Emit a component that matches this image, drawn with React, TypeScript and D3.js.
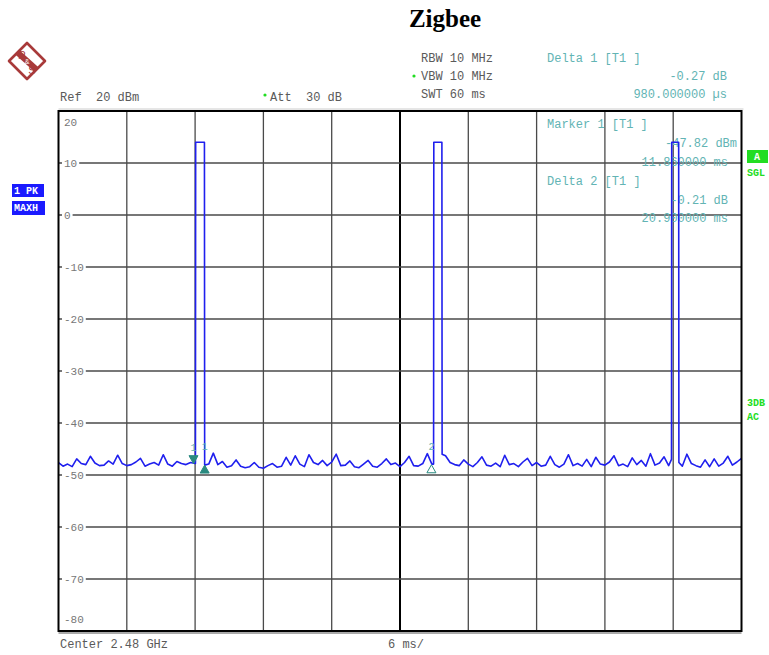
import React from 'react';
import * as d3 from 'd3';

// sweep: 0..60 ms, 6 ms/div; level in dBm
const sweepMs = 60;
const sampleStepMs = 0.4;
const levelTicks = [20, 10, 0, -10, -20, -30, -40, -50, -60, -70, -80];
const timeTicks = [0, 6, 12, 18, 24, 30, 36, 42, 48, 54, 60];

// noise floor, one value every 0.4 ms
const noiseDbm = [
	-47.6, -48.3, -47.9, -48.4, -46.9, -47.8, -48.0, -46.4, -47.7, -48.2, -48.1, -47.3, -47.9, -46.2, -47.8,
	-48.2, -48.0, -47.5, -46.8, -48.3, -47.9, -47.6, -48.1, -46.1, -47.9, -48.3, -47.4, -47.8, -48.0, -47.6,
	-47.8, -47.5, -47.6, -47.9, -45.8, -48.0, -47.4, -48.5, -48.2, -47.1, -48.3, -48.6, -48.4, -47.6, -48.5,
	-48.7, -48.2, -47.8, -48.5, -48.3, -46.6, -48.1, -46.3, -47.9, -48.4, -46.1, -47.6, -48.0, -47.2, -48.2,
	-47.5, -46.0, -48.2, -48.1, -47.3, -48.4, -48.6, -47.9, -47.2, -48.3, -48.5, -47.8, -46.9, -48.0, -47.7,
	-48.4, -47.6, -46.4, -48.2, -48.3, -47.8, -45.9, -47.9, -47.6, -47.2, -46.3, -47.6, -48.0, -48.2, -47.1,
	-47.9, -48.4, -47.6, -46.5, -48.1, -48.3, -47.7, -48.4, -46.2, -48.0, -47.8, -48.4, -47.5, -46.8, -48.2,
	-47.6, -48.3, -48.1, -46.4, -48.0, -48.5, -47.9, -46.1, -48.2, -47.8, -48.3, -47.0, -48.4, -46.6, -47.9,
	-48.1, -47.5, -46.3, -48.2, -47.9, -48.4, -46.7, -48.0, -47.2, -48.3, -45.9, -48.1, -47.7, -46.5, -48.2,
	-47.6, -48.0, -48.3, -46.0, -47.8, -48.2, -48.5, -47.1, -48.4, -46.9, -48.3, -47.7, -46.4, -48.1, -47.5,
	-46.8,
];

// the three Zigbee bursts
const pulses = [
	{ start: 12.03, end: 12.84, peak: 14.0, lead: -47.8, trail: -48.1 },
	{ start: 32.95, end: 33.7, peak: 14.0, lead: -47.9, trail: -46.0 },
	{ start: 53.85, end: 54.5, peak: 14.0, lead: -47.0, trail: -47.6 },
];

// markers (ms, dBm)
const markers = [
	{ label: '1', t: 11.86, dbm: -47.82, kind: 'down' },
	{ label: '1', t: 12.84, dbm: -48.09, kind: 'up' },
	{ label: '2', t: 32.76, dbm: -48.03, kind: 'open' },
];

const W = 769;
const H = 655;
const left = 58.5, right = 741.5, top = 111, bottom = 631;
const mono = "'Liberation Mono', 'Courier New', monospace";
const gray = '#5a5a5a';
const teal = '#62b4b4';
const green = '#22dd22';
const rsRed = '#a83a3a';

type Pt = [number, number];

const App: React.FC = () => {
	const x = d3.scaleLinear().domain([0, sweepMs]).range([left, right]);
	const y = d3.scaleLinear().domain([-80, 20]).range([bottom, top]);

	// merge noise samples and bursts into one trace
	const trace: Pt[] = [];
	let p = 0;
	noiseDbm.forEach((v, i) => {
		const t = i * sampleStepMs;
		while (p < pulses.length && t > pulses[p].start) {
			const pu = pulses[p];
			trace.push([pu.start, pu.lead], [pu.start + 0.02, pu.peak], [pu.end - 0.02, pu.peak], [pu.end, pu.trail]);
			p++;
		}
		const inside = pulses.some(pu => t >= pu.start && t <= pu.end + 0.1);
		if (!inside) trace.push([t, v]);
	});

	const line = d3.line<Pt>()
		.x(d => x(d[0]))
		.y(d => y(d[1]));

	return (
		<svg width={W} height={H} viewBox={`0 0 ${W} ${H}`}
			style={{ position: 'absolute', left: 0, top: 0, background: '#fff' }}>
			{/* title */}
			<text x={445} y={27} textAnchor="middle" fontFamily="'Liberation Serif', serif" fontWeight="bold" fontSize={25}>Zigbee</text>

			{/* R&S logo */}
			<g transform="translate(27,61)">
				<path d="M0,-18 L18,0 L0,18 L-18,0 Z" fill="#fff" stroke={rsRed} strokeWidth={2.6} strokeLinejoin="round" />
				<line x1={-10} y1={-9} x2={10} y2={9} stroke={rsRed} strokeWidth={6} />
				<text x={-5} y={-2} fontSize={11} fontFamily="'Liberation Sans', sans-serif" fill={rsRed} textAnchor="middle">R</text>
				<text x={0} y={3} fontSize={7} fontFamily="'Liberation Sans', sans-serif" fill="#fff" textAnchor="middle">&amp;</text>
				<text x={5} y={13} fontSize={11} fontFamily="'Liberation Sans', sans-serif" fill={rsRed} textAnchor="middle">S</text>
			</g>

			{/* header */}
			<g fontFamily={mono} fontSize={12} fill={gray}>
				<text x={60} y={101} xmlSpace="preserve">Ref  20 dBm</text>
				<circle cx={265} cy={95} r={1.6} fill={green} />
				<text x={270} y={101} xmlSpace="preserve">Att  30 dB</text>
				<text x={421} y={62}>RBW 10 MHz</text>
				<circle cx={414} cy={76} r={1.6} fill={green} />
				<text x={421} y={80}>VBW 10 MHz</text>
				<text x={421} y={98}>SWT 60 ms</text>
			</g>
			<g fontFamily={mono} fontSize={12} fill={teal}>
				<text x={547} y={62} xmlSpace="preserve">Delta 1 [T1 ]</text>
				<text x={727} y={80} textAnchor="end">-0.27 dB</text>
				<text x={727} y={98} textAnchor="end">980.000000 µs</text>
			</g>
			<line x1={left} x2={right + 2} y1={109} y2={109} stroke="#ccc" strokeWidth={1} />

			{/* grid */}
			<g>
				{timeTicks.slice(1, -1).map(t => (
					<line key={t} x1={x(t)} x2={x(t)} y1={top} y2={bottom}
						stroke={t === 30 ? '#000' : '#4a4a4a'} strokeWidth={t === 30 ? 2 : 1.3} />
				))}
				{levelTicks.slice(1, -1).map(v => (
					<line key={v} x1={left} x2={right} y1={y(v)} y2={y(v)} stroke="#4a4a4a" strokeWidth={1.3} />
				))}
			</g>

			{/* level labels */}
			<g fontFamily={mono} fontSize={11} fill="#777">
				{levelTicks.map(v => {
					const edge = v === 20 || v === -80;
					const ty = v === 20 ? y(v) + 15 : v === -80 ? y(v) - 8 : y(v) + 4;
					const label = String(v);
					return (
						<g key={v}>
							{!edge && <rect x={62} y={y(v) - 5} width={label.length * 6.6 + 4} height={10} fill="#fff" />}
							<text x={64} y={ty}>{label}</text>
						</g>
					);
				})}
			</g>

			{/* marker info inside the diagram */}
			<g fontFamily={mono} fontSize={12} fill={teal}>
				<text x={547} y={128} xmlSpace="preserve">Marker 1 [T1 ]</text>
				<text x={737} y={147} textAnchor="end">-47.82 dBm</text>
				<text x={728} y={166} textAnchor="end">11.860000 ms</text>
				<text x={547} y={185} xmlSpace="preserve">Delta 2 [T1 ]</text>
				<text x={728} y={204} textAnchor="end">-0.21 dB</text>
				<text x={728} y={222} textAnchor="end">20.900000 ms</text>
			</g>

			{/* trace */}
			<path d={line(trace) ?? ''} fill="none" stroke="#1f1fee" strokeWidth={1.6} strokeLinejoin="round" />

			{/* markers */}
			{markers.map((m, i) => {
				const mx = x(m.t);
				const my = y(m.dbm);
				const tri = m.kind === 'down'
					? `M${mx - 4.5},${my - 8} L${mx + 4.5},${my - 8} L${mx},${my} Z`
					: `M${mx},${my} L${mx - 4.5},${my + 8} L${mx + 4.5},${my + 8} Z`;
				return (
					<g key={i}>
						<path d={tri} fill={m.kind === 'open' ? '#fff' : '#2a8a80'} stroke="#2a8a80" strokeWidth={1} />
						<text x={mx} y={m.kind === 'down' ? my - 13 : my - 15} textAnchor="middle"
							fontFamily={mono} fontSize={10} fill={teal}>{m.label}</text>
					</g>
				);
			})}

			{/* frame */}
			<rect x={left} y={top} width={right - left} height={bottom - top} fill="none" stroke="#000" strokeWidth={2} />
			<line x1={left} x2={right} y1={bottom + 2} y2={bottom + 2} stroke="#555" strokeWidth={1} />

			{/* side annotations */}
			<g fontFamily={mono} fontSize={10} fontWeight="bold">
				<rect x={12} y={184} width={32} height={13} fill="#1a1aff" />
				<text x={14} y={194} fill="#fff">1 PK</text>
				<rect x={12} y={201} width={33} height={14} fill="#1a1aff" />
				<text x={14} y={211} fill="#fff">MAXH</text>

				<rect x={747} y={150} width={21} height={13} fill={green} />
				<text x={757} y={160} fill="#fff" textAnchor="middle">A</text>
				<text x={747} y={176} fill={green}>SGL</text>
				<text x={747} y={406} fill={green}>3DB</text>
				<text x={747} y={420} fill={green}>AC</text>
			</g>

			{/* footer */}
			<g fontFamily={mono} fontSize={12} fill={gray}>
				<text x={60} y={648}>Center 2.48 GHz</text>
				<text x={388} y={648}>6 ms/</text>
			</g>
		</svg>
	);
};

export default App;
